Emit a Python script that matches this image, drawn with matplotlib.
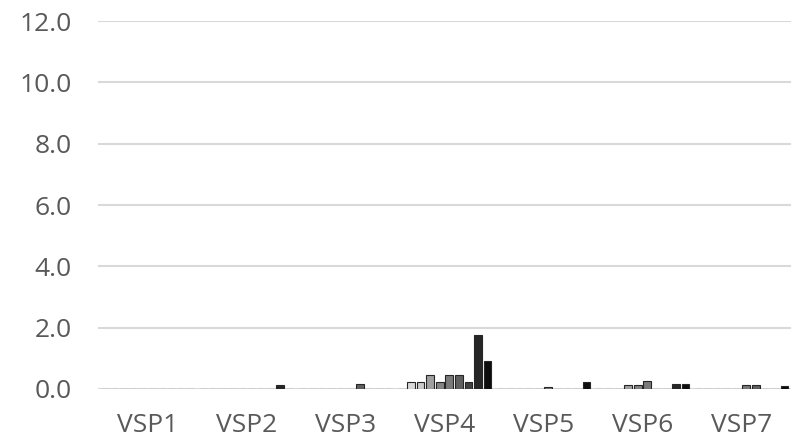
import matplotlib
matplotlib.use("Agg")
import matplotlib.pyplot as plt
import numpy as np

# categories and series values (10 series per category)
categories = ["VSP1", "VSP2", "VSP3", "VSP4", "VSP5", "VSP6", "VSP7"]
series_values = [
    [0, 0, 0, 0.00, 0, 0.00, 0],      # s1
    [0, 0, 0, 0.23, 0, 0.00, 0],      # s2
    [0, 0, 0, 0.23, 0, 0.00, 0],      # s3
    [0, 0, 0, 0.44, 0, 0.14, 0],      # s4
    [0, 0, 0, 0.22, 0, 0.14, 0],      # s5
    [0, 0, 0, 0.44, 0.06, 0.27, 0.14],  # s6
    [0, 0, 0.16, 0.44, 0, 0.00, 0.14],  # s7
    [0, 0, 0, 0.23, 0, 0.00, 0],      # s8
    [0, 0.13, 0, 1.77, 0, 0.15, 0],   # s9
    [0, 0, 0, 0.90, 0.22, 0.15, 0.10],  # s10
]
series_colors = ["#f2f2f2", "#d9d9d9", "#cccccc", "#a0a0a0", "#858585",
                 "#7a7a7a", "#606060", "#404040", "#262626", "#0d0d0d"]
y_ticks = [0, 2, 4, 6, 8, 10, 12]

plt.rcParams['font.family'] = ['Open Sans', 'DejaVu Sans']

fig = plt.figure(figsize=(7.91, 4.41), dpi=100)
ax = fig.add_axes([0.124, 0.118, 0.876, 0.834])

n = len(series_values)
step = 0.965 / n
x = np.arange(len(categories))
for i, vals in enumerate(series_values):
    offs = (i - (n - 1) / 2) * step
    ax.bar(x + offs, vals, width=step * 0.8, color=series_colors[i],
           edgecolor="#262626", linewidth=0.8, zorder=3)

ax.set_xlim(-0.5, len(categories) - 0.5)
ax.set_ylim(0, 12)
ax.set_yticks(y_ticks)
ax.set_yticklabels([f"{v:.1f}" for v in y_ticks])
ax.set_xticks(x)
ax.set_xticklabels(categories)

ax.grid(axis="y", color="#d9d9d9", linewidth=1.5, zorder=0)
ax.set_axisbelow(True)
for s in ax.spines.values():
    s.set_visible(False)
ax.tick_params(axis="both", length=0, labelsize=19, colors="#595959")
ax.tick_params(axis="x", pad=17)
ax.tick_params(axis="y", pad=19)

fig.savefig("out.png", dpi=100)
